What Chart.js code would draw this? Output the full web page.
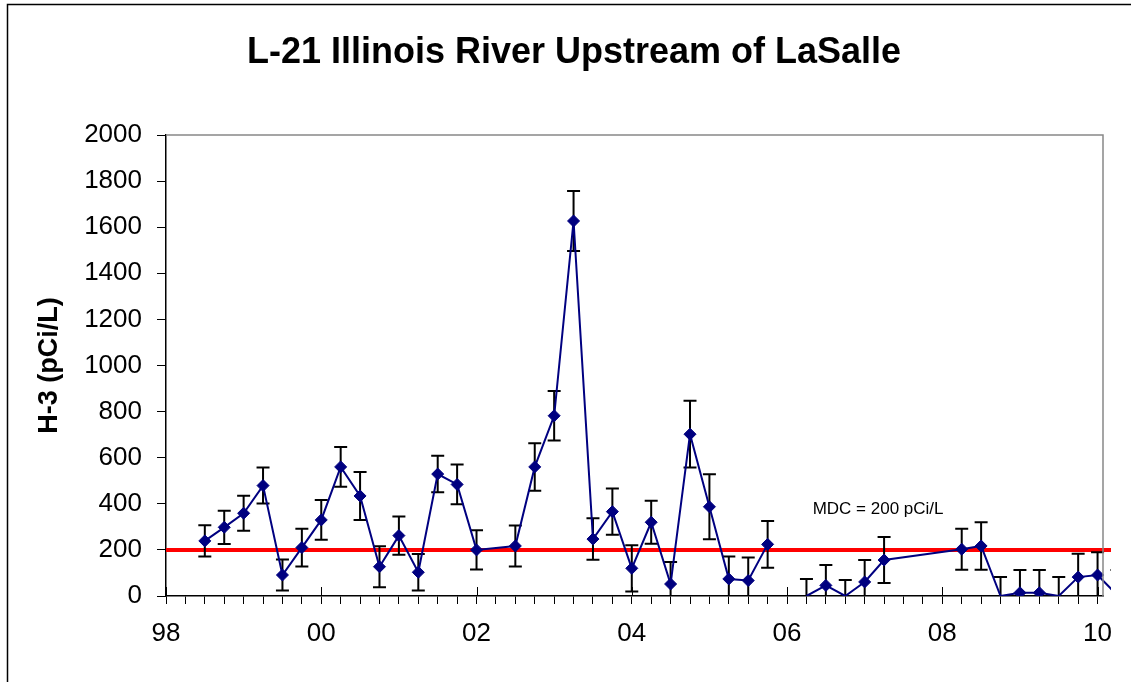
<!DOCTYPE html>
<html>
<head>
<meta charset="utf-8">
<script src="https://cdn.jsdelivr.net/npm/chart.js@4.4.1/dist/chart.umd.min.js"></script>
<style>
  html, body { margin: 0; padding: 0; background: #fff; }
</style>
</head>
<body>
<canvas id="chart" width="1131" height="682"></canvas>
<script>
// sample dates as decimal years (quarterly)
const sampleYears = [
  1998.5, 1998.75, 1999, 1999.25, 1999.5, 1999.75,
  2000, 2000.25, 2000.5, 2000.75, 2001, 2001.25, 2001.5, 2001.75,
  2002, 2002.5, 2002.75, 2003, 2003.25, 2003.5, 2003.75,
  2004, 2004.25, 2004.5, 2004.75, 2005, 2005.25, 2005.5, 2005.75,
  2006, 2006.25, 2006.5, 2006.75, 2007, 2007.25,
  2008.25, 2008.5, 2008.75, 2009, 2009.25, 2009.5, 2009.75, 2010, 2010.25
];
// H-3 results (pCi/L)
const h3Values = [
  239, 298, 359, 479, 91, 210,
  330, 560, 434, 127, 262, 103, 529, 484,
  200, 217, 560, 782, 1627, 247, 366,
  120, 320, 52, 702, 387, 74, 67, 224,
  null, -30, 46, -30, 61, 156,
  203, 217, -18, 14, 14, -18, 82, 91, 5
];
// +/- uncertainty (pCi/L)
const h3Errors = [
  68, 72, 76, 78, 67, 82,
  86, 86, 104, 89, 83, 79, 79, 86,
  85, 89, 103, 107, 130, 90, 100,
  100, 93, 95, 145, 141, 97, 100, 101,
  null, 104, 88, 99, 95, 100,
  89, 103, 100, 99, 99, 100, 101, 99, 108
];

const mdcValue = 200;
const mdcSpan = [1998, 2010.25];
const mdcLabel = 'MDC = 200 pCi/L';
const mdcLabelAt = [2006.33, 377];

const labeledYears = [1998, 2000, 2002, 2004, 2006, 2008, 2010];
const xTickLabels = ['98', '00', '02', '04', '06', '08', '10'];
const xMin = 1998, xMax = 2010.07;
const yMin = 0, yMax = 2000, yStep = 200;

const chartTitle = 'L-21 Illinois River Upstream of LaSalle';
const yTitle = 'H-3 (pCi/L)';
const FONT = '"Liberation Sans", Arial, sans-serif';
const overflowRight = 8;

const framePlugin = {
  id: 'frame',
  beforeDraw(chart) {
    const ctx = chart.ctx;
    ctx.save();
    ctx.fillStyle = '#fff';
    ctx.fillRect(0, 0, chart.width, chart.height);
    ctx.strokeStyle = '#000';
    ctx.lineWidth = 1.5;
    ctx.strokeRect(7.5, 4.5, chart.width + 20, chart.height + 20);
    ctx.fillStyle = '#000';
    ctx.font = 'bold 36px ' + FONT;
    ctx.textAlign = 'center';
    ctx.textBaseline = 'middle';
    ctx.fillText(chartTitle, 574, 53);
    ctx.restore();
  },
  afterDraw(chart) {
    const {ctx, chartArea: a, scales} = chart;
    ctx.save();
    ctx.strokeStyle = '#888';
    ctx.lineWidth = 1.5;
    ctx.beginPath();
    ctx.moveTo(a.left, a.top);
    ctx.lineTo(a.right, a.top);
    ctx.lineTo(a.right, a.bottom);
    ctx.stroke();
    // major x ticks cross the axis
    ctx.strokeStyle = '#000';
    ctx.lineWidth = 1;
    labeledYears.forEach(yr => {
      const x = Math.round(scales.x.getPixelForValue(yr)) + 0.5;
      ctx.beginPath();
      ctx.moveTo(x, a.bottom - 9);
      ctx.lineTo(x, a.bottom);
      ctx.stroke();
    });
    ctx.restore();
  }
};

const errorBarPlugin = {
  id: 'errorBars',
  beforeDatasetDraw(chart, args) {
    if (args.index !== 0) return;
    const {ctx, chartArea: a, scales: {x: xs, y: ys}} = chart;
    ctx.save();
    ctx.beginPath();
    ctx.rect(a.left, a.top, a.right - a.left + overflowRight, a.bottom - a.top);
    ctx.clip();
    ctx.strokeStyle = '#000';
    ctx.lineWidth = 2;
    sampleYears.forEach((yr, i) => {
      const v = h3Values[i], e = h3Errors[i];
      if (v === null || e === null) return;
      const x = xs.getPixelForValue(yr);
      const yHi = ys.getPixelForValue(v + e);
      const yLo = ys.getPixelForValue(v - e);
      ctx.beginPath();
      ctx.moveTo(x, yHi); ctx.lineTo(x, yLo);
      ctx.moveTo(x - 6.5, yHi); ctx.lineTo(x + 6.5, yHi);
      ctx.moveTo(x - 6.5, yLo); ctx.lineTo(x + 6.5, yLo);
      ctx.stroke();
    });
    ctx.restore();
  },
  afterDatasetsDraw(chart) {
    const {ctx, scales: {x: xs, y: ys}} = chart;
    ctx.save();
    ctx.fillStyle = '#000';
    ctx.font = '17px ' + FONT;
    ctx.textAlign = 'left';
    ctx.textBaseline = 'middle';
    ctx.fillText(mdcLabel, xs.getPixelForValue(mdcLabelAt[0]), ys.getPixelForValue(mdcLabelAt[1]));
    ctx.restore();
  }
};

new Chart(document.getElementById('chart'), {
  type: 'scatter',
  data: {
    datasets: [
      {
        label: yTitle,
        data: sampleYears.map((x, i) => ({
          x, y: h3Values[i] === null ? null : Math.max(h3Values[i], yMin)
        })),
        showLine: true,
        spanGaps: false,
        borderColor: '#000080',
        borderWidth: 2,
        pointStyle: 'rectRot',
        pointRadius: ctx => (h3Values[ctx.dataIndex] === null || h3Values[ctx.dataIndex] < yMin) ? 0 : 6,
        pointBackgroundColor: '#000080',
        pointBorderColor: '#000080',
        pointBorderWidth: 1,
        clip: {left: 0, top: 0, right: overflowRight, bottom: 0}
      },
      {
        label: 'MDC',
        data: mdcSpan.map(x => ({x, y: mdcValue})),
        showLine: true,
        borderColor: '#ff0000',
        borderWidth: 4,
        pointRadius: 0,
        clip: {left: 0, top: 0, right: overflowRight, bottom: 0}
      }
    ]
  },
  options: {
    responsive: false,
    animation: false,
    layout: { padding: {left: 8, right: 28, top: 135, bottom: 0} },
    plugins: {
      legend: { display: false },
      tooltip: { enabled: false },
      title: { display: false }
    },
    scales: {
      x: {
        type: 'linear',
        min: xMin,
        max: xMax,
        afterBuildTicks: axis => {
          const t = [];
          for (let q = 0; q <= 48; q++) t.push({value: xMin + q / 4});
          axis.ticks = t;
        },
        afterFit: scale => { scale.height = 86; },
        grid: { drawOnChartArea: false, color: '#000', tickLength: 8, lineWidth: 1 },
        border: { display: true, color: '#000', width: 1.5 },
        ticks: {
          autoSkip: false,
          maxRotation: 0,
          padding: 14,
          color: '#000',
          font: { family: FONT, size: 26 },
          callback: v => {
            const k = labeledYears.indexOf(v);
            return k >= 0 ? xTickLabels[k] : '';
          }
        }
      },
      y: {
        min: yMin,
        max: yMax,
        afterFit: scale => { scale.width = 158; },
        grid: { drawOnChartArea: false, color: '#000', tickLength: 9, lineWidth: 1 },
        border: { display: true, color: '#000', width: 1.5 },
        ticks: {
          stepSize: yStep,
          padding: 15,
          color: '#000',
          font: { family: FONT, size: 26 },
          callback: v => String(v)
        },
        title: {
          display: true,
          text: yTitle,
          color: '#000',
          font: { family: FONT, size: 27, weight: 'bold' },
          padding: { top: 25, bottom: 0 }
        }
      }
    }
  },
  plugins: [framePlugin, errorBarPlugin]
});
</script>
</body>
</html>
